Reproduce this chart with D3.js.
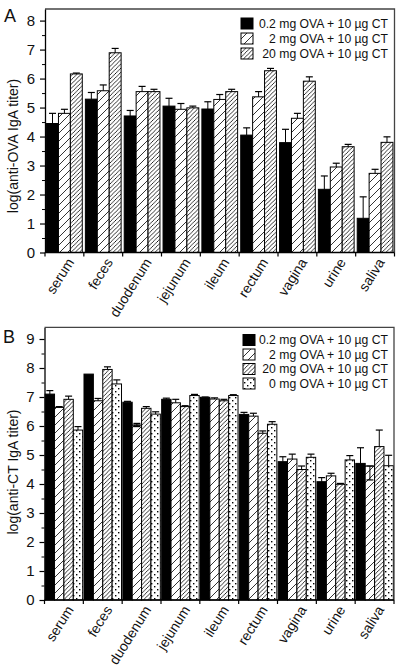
<!DOCTYPE html>
<html><head><meta charset="utf-8">
<script src="https://cdn.jsdelivr.net/npm/d3@7"></script>
<style>
html,body{margin:0;padding:0;background:#fff;}
svg{display:block;font-family:"Liberation Sans",Arial,Helvetica,sans-serif;}
</style></head>
<body>
<svg id="chart" width="400" height="667"></svg>
<script>
// ---------- data ----------
const categories = ["serum","feces","duodenum","jejunum","ileum","rectum","vagina","urine","saliva"];

// Panel A: log(anti-OVA IgA titer)
const seriesA = ["0.2 mg OVA + 10 \u00b5g CT","2 mg OVA + 10 \u00b5g CT","20 mg OVA + 10 \u00b5g CT"];
const a02   = [4.45, 5.29, 4.71, 5.05, 4.95, 4.05, 3.79, 2.18, 1.18];
const a02Err= [0.35, 0.23, 0.19, 0.27, 0.25, 0.25, 0.46, 0.46, 0.74];
const a2    = [4.80, 5.58, 5.55, 4.94, 5.28, 5.37, 4.63, 2.95, 2.73];
const a2Err = [0.14, 0.20, 0.18, 0.20, 0.17, 0.18, 0.17, 0.13, 0.14];
const a20   = [6.16, 6.89, 5.55, 4.99, 5.55, 6.27, 5.91, 3.65, 3.80];
const a20Err= [0.03, 0.15, 0.08, 0.06, 0.08, 0.08, 0.15, 0.08, 0.19];
const ticksA = [0,1,2,3,4,5,6,7,8];

// Panel B: log(anti-CT IgA titer)
const seriesB = ["0.2 mg OVA + 10 \u00b5g CT","2 mg OVA + 10 \u00b5g CT","20 mg OVA + 10 \u00b5g CT","0 mg OVA + 10 \u00b5g CT"];
const b02   = [7.10, 7.79, 6.82, 6.92, 6.99, 6.40, 4.77, 4.08, 4.71];
const b02Err= [0.12, 0.00, 0.03, 0.04, 0.01, 0.07, 0.17, 0.14, 0.54];
const b2    = [6.64, 6.87, 6.03, 6.80, 6.93, 6.34, 4.86, 4.28, 4.62];
const b2Err = [0.03, 0.08, 0.06, 0.12, 0.04, 0.10, 0.17, 0.09, 0.00];
const b2ErrLow = [0, 0, 0.05, 0, 0, 0, 0, 0, 0.48];
const b20   = [6.92, 7.95, 6.61, 6.67, 6.87, 5.75, 4.50, 3.99, 5.29];
const b20Err= [0.11, 0.09, 0.06, 0.03, 0.05, 0.08, 0.12, 0.03, 0.57];
const b0    = [5.86, 7.45, 6.41, 7.05, 7.05, 6.06, 4.92, 4.83, 4.63];
const b0Err = [0.12, 0.14, 0.08, 0.04, 0.03, 0.09, 0.11, 0.15, 0.36];
const ticksB = [0,1,2,3,4,5,6,7,8,9];

// ---------- drawing ----------
const svg = d3.select("#chart");
const defs = svg.append("defs");
function hatch(id, spacing){
  const p = defs.append("pattern").attr("id", id).attr("patternUnits","userSpaceOnUse")
    .attr("width", spacing).attr("height", spacing);
  p.append("rect").attr("width",spacing).attr("height",spacing).attr("fill","#fff");
  p.append("path").attr("d", `M0,${spacing} L${spacing},0 M${-spacing/2},${spacing/2} L${spacing/2},${-spacing/2} M${spacing/2},${spacing*1.5} L${spacing*1.5},${spacing/2}`)
    .attr("stroke","#000").attr("stroke-width",0.8).attr("fill","none");
}
hatch("sparse", 8);
hatch("dense", 4.2);
const dp = defs.append("pattern").attr("id","dots").attr("patternUnits","userSpaceOnUse").attr("width",6).attr("height",6);
dp.append("rect").attr("width",6).attr("height",6).attr("fill","#fff");
dp.append("rect").attr("x",1).attr("y",1).attr("width",1.4).attr("height",1.4).attr("fill","#000");
dp.append("rect").attr("x",4).attr("y",4).attr("width",1.4).attr("height",1.4).attr("fill","#000");

const fills = ["#000","url(#sparse)","url(#dense)","url(#dots)"];

function panel(cfg){
  const g = svg.append("g");
  const x = d3.scaleBand().domain(categories).range([cfg.left, cfg.right]).paddingInner(0).paddingOuter(0);
  const y = d3.scaleLinear().domain([0, cfg.ymax]).range([cfg.bottom, cfg.top]);
  const inner = d3.scaleBand().domain(d3.range(cfg.series.length)).range([0, x.bandwidth()]).paddingOuter(cfg.pad).paddingInner(0);

  // bars
  cfg.series.forEach((vals, si) => {
    const gs = g.append("g");
    gs.selectAll("rect").data(categories).join("rect")
      .attr("x", (c) => x(c) + inner(si))
      .attr("width", inner.bandwidth())
      .attr("y", (c, i) => y(vals[i]))
      .attr("height", (c, i) => y(0) - y(vals[i]))
      .attr("fill", fills[si]).attr("stroke","#000").attr("stroke-width",1);
    // error bars
    const errs = cfg.errs[si];
    const low = cfg.low[si];
    categories.forEach((c, i) => {
      const cx = x(c) + inner(si) + inner.bandwidth()/2;
      const top = vals[i] + errs[i];
      const bot = vals[i] - (low ? low[i] : 0);
      if (errs[i] > 0) {
        gs.append("line").attr("x1",cx).attr("x2",cx).attr("y1",y(vals[i])).attr("y2",y(top)).attr("stroke","#000").attr("stroke-width",1);
        gs.append("line").attr("x1",cx-3.5).attr("x2",cx+3.5).attr("y1",y(top)).attr("y2",y(top)).attr("stroke","#000").attr("stroke-width",1.2);
      }
      if (low && low[i] > 0) {
        gs.append("line").attr("x1",cx).attr("x2",cx).attr("y1",y(vals[i])).attr("y2",y(bot)).attr("stroke","#000").attr("stroke-width",1);
        gs.append("line").attr("x1",cx-3.5).attr("x2",cx+3.5).attr("y1",y(bot)).attr("y2",y(bot)).attr("stroke","#000").attr("stroke-width",1.2);
        gs.append("line").attr("x1",cx-3.5).attr("x2",cx+3.5).attr("y1",y(vals[i])).attr("y2",y(vals[i])).attr("stroke","#000").attr("stroke-width",1.2);
      }
    });
  });

  // frame
  g.append("path").attr("d", `M${cfg.left},${cfg.top} H${cfg.right} V${cfg.bottom}`)
    .attr("fill","none").attr("stroke","#444").attr("stroke-width",1.3);

  // y axis: minor ticks
  const minor = d3.range(0.5, cfg.ymax, 1).filter(v => v < cfg.ymax);
  g.append("g").attr("transform",`translate(${cfg.left},0)`)
    .call(d3.axisLeft(y).tickValues(minor).tickSize(3).tickFormat(""))
    .call(s => s.select(".domain").remove());
  const ya = g.append("g").attr("transform",`translate(${cfg.left},0)`)
    .call(d3.axisLeft(y).tickValues(cfg.ticks).tickSize(5).tickPadding(5).tickSizeOuter(0).tickFormat(d3.format("d")));
  ya.selectAll("text").attr("font-size",15).attr("fill","#111").attr("font-family","'Liberation Sans',Arial,sans-serif");
  ya.selectAll("line").attr("stroke-width",1.2);
  ya.select(".domain").attr("stroke-width",1.3);

  // x axis
  const xa = g.append("g").attr("transform",`translate(0,${cfg.bottom})`);
  xa.append("line").attr("x1",cfg.left).attr("x2",cfg.right).attr("stroke","#000").attr("stroke-width",1.3);
  const bounds = categories.map(c => x(c)).concat([cfg.right]);
  xa.selectAll("line.tk").data(bounds).join("line").attr("class","tk")
    .attr("x1", d => d).attr("x2", d => d).attr("y1",0).attr("y2",4).attr("stroke","#000").attr("stroke-width",1.2);
  xa.selectAll("text").data(categories).join("text")
    .attr("transform", c => `translate(${x(c) + x.bandwidth()/2 + 6},${7}) rotate(-58)`)
    .attr("text-anchor","end").attr("dy","0.35em")
    .attr("font-size",14).attr("fill","#111").text(c => c);

  // y title
  g.append("text").attr("transform",`translate(${cfg.titleX},${cfg.titleY}) rotate(-90)`)
    .attr("text-anchor","middle").attr("font-size",14).attr("fill","#111").text(cfg.title);
  // panel letter
  g.append("text").attr("x",cfg.letterX).attr("y",cfg.letterY).attr("font-size",18).attr("fill","#111").text(cfg.letter);

  // legend
  const lg = g.append("g");
  cfg.names.forEach((n, i) => {
    const cy = cfg.legY + i * cfg.legStep;
    lg.append("rect").attr("x", cfg.legBoxX).attr("y", cy - 5.5).attr("width",12).attr("height",11)
      .attr("fill", fills[i]).attr("stroke","#000").attr("stroke-width",1);
    lg.append("text").attr("x", cfg.legTextRight).attr("y", cy).attr("dy","0.35em")
      .attr("text-anchor","end").attr("font-size",12.2).attr("fill","#111").text(n);
  });
}

panel({
  left:45, right:394.5, top:9, bottom:252.5, ymax:8.4, ticks:ticksA, pad:0.13,
  series:[a02,a2,a20], errs:[a02Err,a2Err,a20Err], low:[null,null,null],
  title:"log(anti-OVA IgA titer)", titleX:18, titleY:146,
  letter:"A", letterX:4, letterY:22,
  names:seriesA, legY:23.5, legStep:15, legBoxX:241, legTextRight:388
});
panel({
  left:44.5, right:394, top:327.4, bottom:600, ymax:9.4, ticks:ticksB, pad:0.07,
  series:[b02,b2,b20,b0], errs:[b02Err,b2Err,b20Err,b0Err], low:[null,b2ErrLow,null,null],
  title:"log(anti-CT IgA titer)", titleX:18, titleY:472,
  letter:"B", letterX:3, letterY:343,
  names:seriesB, legY:340, legStep:14.5, legBoxX:243, legTextRight:388
});
</script>
</body></html>
